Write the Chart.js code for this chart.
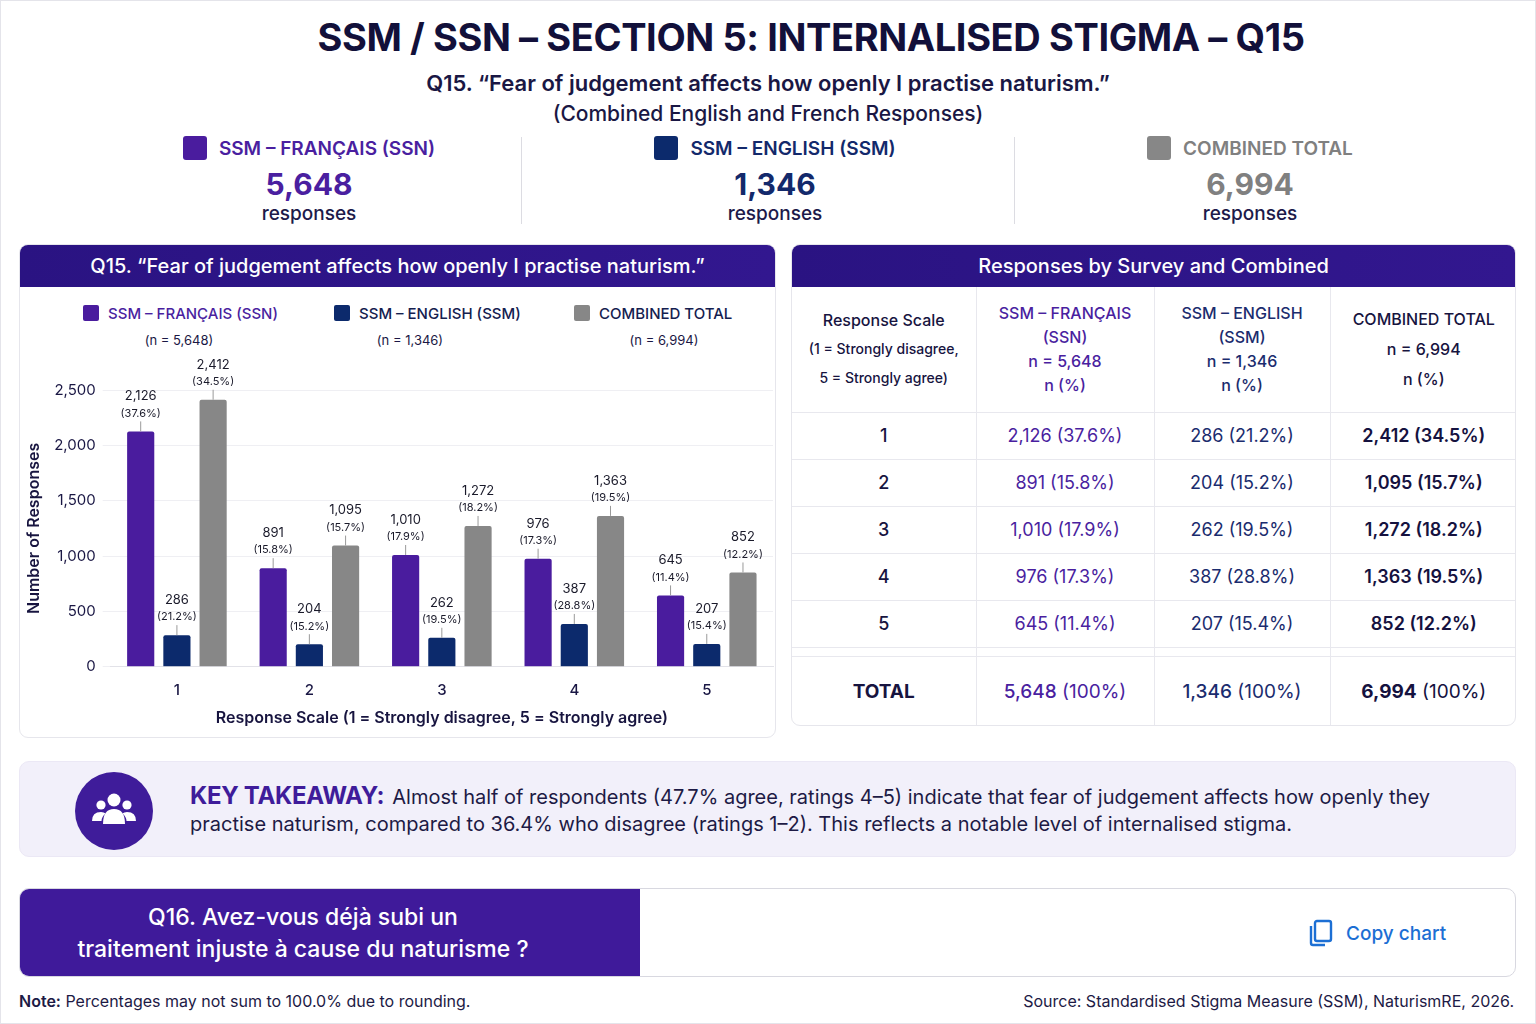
<!DOCTYPE html>
<html>
<head>
<meta charset="utf-8">
<title>SSM / SSN – Section 5 – Q15</title>
<script src="https://cdn.jsdelivr.net/npm/chart.js@4.4.1/dist/chart.umd.min.js"></script>
<style>
  * { box-sizing: border-box; }
  body { margin: 0; width: 1536px; height: 1024px; position: relative; background: #fff; font-family: Inter, "Noto Sans", sans-serif; color: #15123f; overflow: hidden; }
  .frame { position: absolute; left: 0; top: 0; width: 1536px; height: 1024px; border: 1px solid #e4e4ea; }
  .abs { position: absolute; }
  h1 { position: absolute; left: 43px; width: 1536px; top: 14px; margin: 0; text-align: center; font-size: 38px; font-weight: 700; color: #12103a; letter-spacing: -0.4px; }
  .sub { position: absolute; left: 0; width: 1536px; text-align: center; margin: 0; color: #1a1744; }
  .stat { position: absolute; top: 134px; text-align: center; }
  .stat .lab { font-size: 19px; font-weight: 600; display: flex; align-items: center; justify-content: center; gap: 12px; height: 28px; }
  .stat .sq { width: 24px; height: 24px; border-radius: 3px; display: inline-block; }
  .stat .num { font-size: 30px; font-weight: 700; margin-top: 4px; line-height: 36px; }
  .stat .resp { font-size: 19px; font-weight: 500; line-height: 24px; color: #1d1a4a; }
  .vdiv { position: absolute; top: 137px; width: 1px; height: 87px; background: #dcdce2; }
  .panel { position: absolute; border: 1px solid #e6e6ec; border-radius: 9px; background: #fff; overflow: hidden; }
  .phead { height: 42px; background: linear-gradient(90deg, #2a1382, #32178f); color: #fff; font-size: 20px; font-weight: 500; display: flex; align-items: center; justify-content: center; }
  .leg { position: absolute; top: 303px; text-align: center; }
  .leg .l1 { display: flex; align-items: center; gap: 9px; font-size: 15px; font-weight: 500; height: 20px; }
  .leg .sq { width: 16px; height: 16px; border-radius: 2px; }
  .leg .l2 { font-size: 13px; margin-top: 9px; color: #1a1744; }
  table { border-collapse: collapse; table-layout: fixed; width: 725px; }
  td { border-right: 1px solid #e8e8ee; border-bottom: 1px solid #e8e8ee; text-align: center; vertical-align: middle; padding: 0; }
  td:last-child { border-right: none; }
  thead td { height: 125px; font-size: 16px; font-weight: 500; line-height: 24px; }
  tbody td { height: 47px; font-size: 18px; }
  tr.gap td { height: 9px; border-bottom: 1px solid #e8e8ee; }
  tr.tot td { height: 70px; border-bottom: none; font-size: 19px; }
  .c1 { color: #17143f; font-weight: 500; }
  .c2 { color: #4a1fa0; }
  .c3 { color: #1b2c6e; }
  .c4 { color: #15123f; font-weight: 600; }
  .take { position: absolute; left: 19px; top: 761px; width: 1497px; height: 96px; background: #f2f0fa; border-radius: 10px; border: 1px solid #ebe8f5; }
  .take .ln { position: absolute; left: 170px; white-space: nowrap; font-size: 20px; line-height: 29px; color: #1d1a45; }
  .take b { color: #3f1c9a; font-size: 24px; font-weight: 700; letter-spacing: -0.3px; margin-right: 8px; }
  .q16 { position: absolute; left: 19px; top: 888px; width: 1497px; height: 89px; border: 1px solid #d8d8e0; border-radius: 10px; overflow: hidden; background: #fff; }
  .q16 .left { position: absolute; left: 0; top: 0; width: 620px; height: 89px; background: #3f1a9a; color: #fff; font-size: 23px; font-weight: 500; line-height: 32px; text-align: center; padding-top: 12px; padding-right: 54px; }
  .copy { position: absolute; left: 1308px; top: 919px; display: flex; align-items: center; gap: 12px; color: #1c6fd4; font-size: 19px; font-weight: 500; }
  .foot { position: absolute; top: 991px; font-size: 16px; color: #1d1a45; }
</style>
</head>
<body>
<div class="frame"></div>

<h1>SSM / SSN – SECTION 5: INTERNALISED STIGMA – Q15</h1>
<p class="sub" style="top:70px;font-size:22px;font-weight:600;">Q15. “Fear of judgement affects how openly I practise naturism.”</p>
<p class="sub" style="top:101px;font-size:21px;font-weight:500;">(Combined English and French Responses)</p>

<div id="stats"></div>
<div class="vdiv" style="left:521px"></div>
<div class="vdiv" style="left:1014px"></div>

<!-- panneau graphique -->
<div class="panel" style="left:19px;top:244px;width:757px;height:494px;">
  <div class="phead">Q15. “Fear of judgement affects how openly I practise naturism.”</div>
</div>
<div id="legend"></div>
<div class="abs" style="left:21px;top:350px;width:754px;height:388px;">
  <canvas id="q15Chart"></canvas>
</div>

<!-- panneau tableau -->
<div class="panel" style="left:791px;top:244px;width:725px;height:482px;">
  <div class="phead">Responses by Survey and Combined</div>
  <table id="q15Table">
    <colgroup><col style="width:184px"><col style="width:178px"><col style="width:176px"><col style="width:187px"></colgroup>
  </table>
</div>

<div class="take">
  <svg class="abs" style="left:55px;top:10px" width="78" height="78" viewBox="0 0 78 78">
    <circle cx="39" cy="39" r="39" fill="#3f1c9a"/>
    <g fill="#fff">
      <circle cx="39" cy="28" r="6.5"/>
      <circle cx="26" cy="33" r="4.6"/>
      <circle cx="52" cy="33" r="4.6"/>
      <path d="M28 52 Q28 37 39 37 Q50 37 50 52 Z"/>
      <path d="M17 49 Q17 40 26 40 Q29 40 30.5 41.5 Q26.5 45 26.5 49 Z"/>
      <path d="M61 49 Q61 40 52 40 Q49 40 47.5 41.5 Q51.5 45 51.5 49 Z"/>
    </g>
  </svg>
  <div class="ln" style="top:19px;"><b>KEY TAKEAWAY:</b><span>Almost half of respondents (47.7% agree, ratings 4–5) indicate that fear of judgement affects how openly they</span></div>
  <div class="ln" style="top:48px;">practise naturism, compared to 36.4% who disagree (ratings 1–2). This reflects a notable level of internalised stigma.</div>
</div>

<div class="q16">
  <div class="left">Q16. Avez-vous déjà subi un<br>traitement injuste à cause du naturisme ?</div>
</div>
<div class="copy">
  <svg width="26" height="28" viewBox="0 0 26 28">
    <rect x="7" y="2" width="16" height="20" rx="2" fill="none" stroke="#1c6fd4" stroke-width="2.4"/>
    <path d="M3 7 V24 Q3 26 5 26 H17" fill="none" stroke="#1c6fd4" stroke-width="2.4"/>
  </svg>
  <span>Copy chart</span>
</div>

<div class="foot" style="left:19px;"><b style="font-weight:600">Note:</b> Percentages may not sum to 100.0% due to rounding.</div>
<div class="foot" style="right:22px;">Source: Standardised Stigma Measure (SSM), NaturismRE, 2026.</div>

<script>
// Données Q15
const categories = ['1', '2', '3', '4', '5'];
const seriesNames = ['SSM – FRANÇAIS (SSN)', 'SSM – ENGLISH (SSM)', 'COMBINED TOTAL'];
const totals = [5648, 1346, 6994];
const francais = [2126, 891, 1010, 976, 645];
const english = [286, 204, 262, 387, 207];
const combined = [2412, 1095, 1272, 1363, 852];
const francaisPct = [37.6, 15.8, 17.9, 17.3, 11.4];
const englishPct = [21.2, 15.2, 19.5, 28.8, 15.4];
const combinedPct = [34.5, 15.7, 18.2, 19.5, 12.2];
const yTicks = [0, 500, 1000, 1500, 2000, 2500];

const colors = ['#4a1c9e', '#0c2a6c', '#878787'];
const textColors = ['#4a1fa0', '#13296b', '#808080'];
const fmt = n => n.toLocaleString('en-US');

// Cartes de total en haut
const statCenters = [309, 775, 1250];
document.getElementById('stats').innerHTML = seriesNames.map((name, i) => {
    return `<div class="stat" style="left:${statCenters[i] - 200}px;width:400px;">
        <div class="lab" style="color:${textColors[i]}"><span class="sq" style="background:${colors[i]}"></span>${name}</div>
        <div class="num" style="color:${textColors[i]}">${fmt(totals[i])}</div>
        <div class="resp">responses</div>
      </div>`;
}).join('');

// Légende du graphique
const legendLeft = [83, 334, 574];
const legendCenters = [179, 410, 664];
document.getElementById('legend').innerHTML = seriesNames.map((name, i) => `
    <div class="leg" style="left:${legendLeft[i]}px;">
      <div class="l1" style="color:${i === 0 ? '#4a1fa0' : '#14204f'}"><span class="sq" style="background:${colors[i]}"></span>${name}</div>
    </div>
    <div class="leg" style="left:${legendCenters[i] - 80}px;width:160px;top:323px;">
      <div class="l2">(n = ${fmt(totals[i])})</div>
    </div>`).join('');

// Tableau
const rowsData = [francais, english, combined];
const pctData = [francaisPct, englishPct, combinedPct];
let html = `<thead><tr>
  <td class="c1" style="font-size:16px;line-height:28px;">Response Scale<br><span style="font-size:14px">(1 = Strongly disagree,<br>5 = Strongly agree)</span></td>
  <td class="c2" style="font-weight:500">SSM – FRANÇAIS<br>(SSN)<br>n = ${fmt(totals[0])}<br>n (%)</td>
  <td class="c3" style="font-weight:500">SSM – ENGLISH<br>(SSM)<br>n = ${fmt(totals[1])}<br>n (%)</td>
  <td class="c1" style="line-height:30px">COMBINED TOTAL<br>n = ${fmt(totals[2])}<br>n (%)</td>
</tr></thead><tbody>`;
categories.forEach((c, r) => {
    html += `<tr><td class="c1">${c}</td>` +
        [0, 1, 2].map(s => `<td class="c${s + 2}">${fmt(rowsData[s][r])} (${pctData[s][r].toFixed(1)}%)</td>`).join('') +
        `</tr>`;
});
html += `<tr class="gap"><td></td><td></td><td></td><td></td></tr>`;
html += `<tr class="tot"><td class="c1" style="font-weight:700">TOTAL</td>` +
    [0, 1, 2].map(s => `<td class="c${s + 2}" style="font-weight:400"><span style="font-weight:${s === 2 ? 700 : 500}">${fmt(totals[s])}</span> (100%)</td>`).join('') +
    `</tr></tbody>`;
document.getElementById('q15Table').insertAdjacentHTML('beforeend', html);

// Plugin pour les étiquettes au-dessus des barres
const barLabels = {
    id: 'barLabels',
    afterDatasetsDraw(chart) {
        const ctx = chart.ctx;
        ctx.save();
        chart.data.datasets.forEach((ds, di) => {
            chart.getDatasetMeta(di).data.forEach((bar, i) => {
                const x = bar.x, y = bar.y;
                ctx.strokeStyle = '#9a9a9a';
                ctx.lineWidth = 1;
                ctx.beginPath();
                ctx.moveTo(x, y);
                ctx.lineTo(x, y - 10);
                ctx.stroke();
                ctx.fillStyle = '#1a1a2a';
                ctx.textAlign = 'center';
                ctx.textBaseline = 'middle';
                ctx.font = '11px Inter';
                ctx.fillText(`(${pctData[di][i].toFixed(1)}%)`, x, y - 18);
                ctx.font = '13px Inter';
                ctx.fillText(fmt(ds.data[i]), x, y - 35);
            });
        });
        ctx.restore();
    }
};

const ctx = document.getElementById('q15Chart').getContext('2d');
new Chart(ctx, {
    type: 'bar',
    data: {
        labels: categories,
        datasets: rowsData.map((d, i) => ({
            label: seriesNames[i],
            data: d,
            backgroundColor: colors[i],
            borderRadius: 2,
            borderSkipped: 'bottom',
            categoryPercentage: 0.82,
            barPercentage: 0.75
        }))
    },
    options: {
        responsive: true,
        maintainAspectRatio: false,
        animation: false,
        layout: { padding: { top: 40, right: 2, bottom: 6, left: 0 } },
        plugins: {
            legend: { display: false },
            tooltip: { enabled: false }
        },
        scales: {
            x: {
                grid: { display: false },
                border: { color: '#e2e2e8' },
                ticks: { color: '#1a1744', font: { family: 'Inter', size: 15, weight: 500 }, padding: 7 },
                title: { display: true, text: 'Response Scale (1 = Strongly disagree, 5 = Strongly agree)', color: '#17143f', font: { family: 'Inter', size: 16, weight: 600 }, padding: { top: 2 } }
            },
            y: {
                min: 0,
                max: 2500,
                afterBuildTicks: axis => { axis.ticks = yTicks.map(v => ({ value: v })); },
                grid: { color: '#efeff3' },
                border: { display: false },
                ticks: { color: '#1a1744', font: { family: 'Inter', size: 15 }, padding: 7, callback: v => fmt(v) },
                title: { display: true, text: 'Number of Responses', color: '#17143f', font: { family: 'Inter', size: 16, weight: 600 }, padding: { bottom: 3 } }
            }
        }
    },
    plugins: [barLabels]
});
</script>
</body>
</html>
